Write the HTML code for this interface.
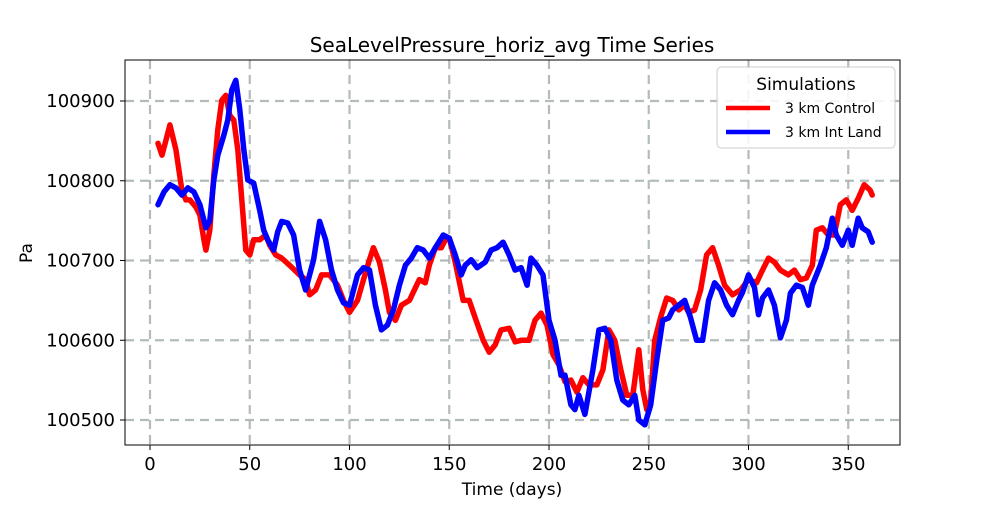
<!DOCTYPE html>
<html><head><meta charset="utf-8"><style>
body{margin:0;background:#fff;font-family:"Liberation Sans","DejaVu Sans",sans-serif}
svg text{font-family:"DejaVu Sans","Liberation Sans",sans-serif}
</style></head><body>
<svg id="c" width="1000" height="500" viewBox="0 0 1000 500">
<rect width="1000" height="500" fill="#fff"/>
<g id="grid"></g>
<g id="series"></g>
<rect x="125" y="60" width="775" height="385" fill="none" stroke="#000" stroke-width="1"/>
<g id="axes"></g>
<text x="512" y="52" text-anchor="middle" font-size="20">SeaLevelPressure_horiz_avg Time Series</text>
<text x="512" y="495" text-anchor="middle" font-size="17">Time (days)</text>
<text x="32" y="253" text-anchor="middle" font-size="17" transform="rotate(-90 32 253)">Pa</text>
<g>
<rect x="717" y="67" width="178" height="81" rx="4" fill="#fff" fill-opacity="0.85" stroke="#ccc"/>
<text x="806" y="90" text-anchor="middle" font-size="17">Simulations</text>
<line x1="726" y1="108" x2="770" y2="108" stroke="#f00" stroke-width="4.5"/>
<text x="785" y="113" font-size="14">3 km Control</text>
<line x1="726" y1="132" x2="770" y2="132" stroke="#00f" stroke-width="4.5"/>
<text x="785" y="137" font-size="14">3 km Int Land</text>
</g>
</svg>
<script>
const xTicks=[0,50,100,150,200,250,300,350];
const yTicks=[100500,100600,100700,100800,100900];
const redDays=[4,6,8,10,13,16,18,20,23,25,27,28,30,32,34,36,38,40,42,44,46,48,50,52,55,58,60,63,66,70,75,78,80,83,86,90,94,97,100,104,107,110,112,115,118,120,123,126,130,135,138,140,143,146,148,150,153,157,160,163,167,170,173,176,180,183,186,190,193,196,199,202,205,208,211,214,217,220,224,227,230,233,236,239,242,245,247,249,251,253,256,259,262,265,268,270,273,276,279,282,285,288,292,296,300,304,307,310,313,316,320,323,326,329,332,334,337,340,343,346,349,352,355,358,361,362];
const redVals=[100847,100832,100851,100870,100839,100788,100776,100776,100767,100757,100726,100713,100738,100807,100864,100901,100907,100882,100876,100839,100776,100713,100707,100726,100726,100732,100719,100707,100703,100694,100682,100676,100657,100663,100682,100682,100669,100650,100635,100650,100676,100701,100716,100698,100663,100635,100625,100644,100650,100676,100672,100694,100716,100716,100726,100728,100698,100650,100650,100628,100600,100585,100594,100613,100615,100598,100600,100600,100625,100634,100619,100582,100569,100548,100550,100535,100553,100544,100544,100563,100613,100600,100563,100531,100531,100588,100538,100513,100525,100600,100629,100653,100650,100638,100644,100635,100638,100663,100707,100716,100694,100669,100657,100663,100676,100672,100688,100703,100698,100688,100682,100688,100676,100678,100694,100738,100741,100732,100732,100770,100776,100763,100778,100795,100788,100782];
const blueDays=[4,7,10,13,16,19,22,25,28,30,32,34,37,39,41,43,45,47,49,52,55,57,59,62,64,66,69,72,75,78,82,85,88,91,94,97,100,104,107,110,113,116,119,122,125,128,131,134,137,140,143,147,150,153,156,158,161,164,168,171,174,177,180,183,186,189,191,194,197,200,203,206,208,211,213,215,218,222,225,228,231,234,237,240,243,245,248,251,254,257,260,262,265,268,271,274,277,280,283,286,289,292,295,297,300,303,305,307,310,313,316,319,321,324,327,330,332,336,339,342,344,347,350,352,355,357,360,362];
const blueVals=[100770,100786,100795,100791,100782,100791,100786,100770,100741,100750,100801,100832,100857,100876,100914,100926,100889,100839,100801,100797,100763,100738,100726,100713,100736,100749,100747,100732,100688,100663,100701,100749,100726,100688,100663,100647,100644,100682,100691,100688,100644,100613,100619,100638,100669,100694,100703,100716,100713,100703,100716,100732,100728,100707,100682,100694,100701,100691,100698,100713,100716,100723,100707,100688,100691,100669,100703,100694,100682,100625,100600,100556,100556,100519,100513,100531,100507,100563,100613,100615,100600,100550,100525,100519,100531,100500,100494,100519,100575,100625,100628,100638,100644,100650,100628,100600,100600,100650,100672,100663,100644,100632,100650,100660,100682,100666,100632,100653,100663,100644,100603,100625,100659,100669,100666,100644,100669,100694,100716,100753,100732,100719,100738,100719,100753,100741,100736,100723];
const NS='http://www.w3.org/2000/svg';
const X=d=>150+d*1.995;
const Y=v=>420-(v-100500)*0.7975;
function mk(t,a,p){const e=document.createElementNS(NS,t);for(const k in a)e.setAttribute(k,a[k]);p.appendChild(e);return e;}
const grid=document.getElementById('grid'),axes=document.getElementById('axes'),ser=document.getElementById('series');
xTicks.forEach(t=>{
 const g=mk('line',{x1:X(t),x2:X(t),y1:60,y2:445,stroke:'#a8b0b0','stroke-width':2.2,'stroke-dasharray':'9,6','opacity':0.85},grid);
 
 
 mk('line',{x1:X(t),x2:X(t),y1:445,y2:450,stroke:'#000'},axes);
 const tx=mk('text',{x:X(t),y:470,'text-anchor':'middle','font-size':18},axes);tx.textContent=t;
 
 
});
yTicks.forEach(t=>{
 const g=mk('line',{x1:125,x2:900,y1:Y(t),y2:Y(t),stroke:'#a8b0b0','stroke-width':2.2,'stroke-dasharray':'9,6','opacity':0.85},grid);
 
 
 mk('line',{x1:120,x2:125,y1:Y(t),y2:Y(t),stroke:'#000'},axes);
 const tx=mk('text',{x:115,y:Y(t)+6,'text-anchor':'end','font-size':18},axes);tx.textContent=t;
 
 
});
function line(days,vals,col,name){
 const d=days.map((x,i)=>(i?'L':'M')+X(x).toFixed(1)+','+Y(vals[i]).toFixed(1)).join('');
 const p=mk('path',{d:d,fill:'none',stroke:col,'stroke-width':5.5,'stroke-linejoin':'round','stroke-linecap':'round'},ser);
 
 
}
line(redDays,redVals,'#f00','control-line');
line(blueDays,blueVals,'#00f','int-land-line');
</script>
</body></html>
